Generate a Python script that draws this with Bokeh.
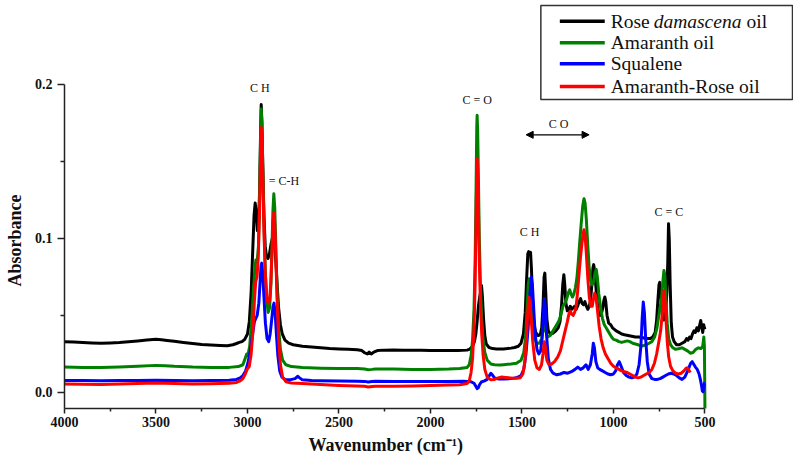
from bokeh.plotting import figure
from bokeh.models import Range1d, FixedTicker, Label, Arrow, NormalHead, NumeralTickFormatter, Title
from bokeh.embed import file_html
from bokeh.resources import INLINE

# ---------------------------------------------------------------- data
# FTIR spectra: (wavenumber cm-1, absorbance)
rose_points = [
    (4000, 0.0330), (3950, 0.0328), (3900, 0.0325), (3850, 0.0322), (3800, 0.0320), (3750, 0.0322),
    (3700, 0.0325), (3650, 0.0330), (3600, 0.0335), (3550, 0.0340), (3500, 0.0345), (3470, 0.0342),
    (3440, 0.0338), (3400, 0.0332), (3350, 0.0325), (3300, 0.0318), (3250, 0.0312), (3200, 0.0308),
    (3150, 0.0305), (3110, 0.0303), (3080, 0.0310), (3060, 0.0318), (3045, 0.0325), (3030, 0.0330),
    (3015, 0.0345), (3000, 0.0380), (2990, 0.0460), (2980, 0.0650), (2972, 0.0900), (2964, 0.1150),
    (2958, 0.1230), (2952, 0.1170), (2946, 0.1050), (2940, 0.1080), (2934, 0.1300), (2929, 0.1650),
    (2925, 0.1870), (2921, 0.1750), (2916, 0.1450), (2910, 0.1150), (2903, 0.0950), (2896, 0.0880),
    (2888, 0.0870), (2880, 0.0900), (2872, 0.0960), (2864, 0.1000), (2858, 0.0990), (2852, 0.0960),
    (2845, 0.0850), (2838, 0.0700), (2830, 0.0550), (2820, 0.0440), (2810, 0.0380), (2795, 0.0340),
    (2775, 0.0320), (2750, 0.0310), (2700, 0.0300), (2650, 0.0295), (2600, 0.0290), (2550, 0.0285),
    (2500, 0.0282), (2450, 0.0280), (2400, 0.0278), (2375, 0.0272), (2360, 0.0258), (2345, 0.0250),
    (2335, 0.0262), (2322, 0.0250), (2310, 0.0262), (2290, 0.0272), (2250, 0.0275), (2200, 0.0276),
    (2150, 0.0275), (2100, 0.0274), (2050, 0.0274), (2000, 0.0273), (1950, 0.0272), (1900, 0.0272),
    (1850, 0.0272), (1800, 0.0275), (1785, 0.0282), (1770, 0.0300), (1760, 0.0330), (1752, 0.0380),
    (1745, 0.0460), (1738, 0.0560), (1731, 0.0620), (1726, 0.0650), (1721, 0.0695), (1716, 0.0620),
    (1710, 0.0480), (1703, 0.0370), (1695, 0.0315), (1680, 0.0292), (1660, 0.0285), (1640, 0.0283),
    (1620, 0.0282), (1600, 0.0283), (1580, 0.0285), (1560, 0.0288), (1540, 0.0292), (1520, 0.0300),
    (1505, 0.0320), (1492, 0.0380), (1482, 0.0520), (1474, 0.0750), (1468, 0.0900), (1463, 0.0915),
    (1458, 0.0895), (1453, 0.0910), (1448, 0.0800), (1442, 0.0600), (1435, 0.0450), (1425, 0.0390),
    (1412, 0.0370), (1400, 0.0375), (1392, 0.0420), (1385, 0.0560), (1379, 0.0750), (1375, 0.0775),
    (1370, 0.0650), (1364, 0.0480), (1356, 0.0400), (1345, 0.0380), (1330, 0.0385), (1315, 0.0400),
    (1302, 0.0420), (1292, 0.0460), (1284, 0.0560), (1277, 0.0700), (1271, 0.0765), (1266, 0.0700),
    (1260, 0.0580), (1252, 0.0530), (1244, 0.0540), (1236, 0.0560), (1228, 0.0540), (1220, 0.0550),
    (1212, 0.0560), (1204, 0.0540), (1196, 0.0560), (1188, 0.0590), (1180, 0.0610), (1172, 0.0580),
    (1164, 0.0570), (1156, 0.0590), (1148, 0.0560), (1140, 0.0540), (1132, 0.0560), (1125, 0.0600),
    (1118, 0.0700), (1112, 0.0810), (1108, 0.0830), (1104, 0.0800), (1098, 0.0720), (1090, 0.0600),
    (1082, 0.0520), (1074, 0.0500), (1066, 0.0510), (1058, 0.0550), (1052, 0.0600), (1047, 0.0620),
    (1042, 0.0590), (1035, 0.0500), (1026, 0.0450), (1015, 0.0440), (1005, 0.0420), (995, 0.0410),
    (985, 0.0400), (970, 0.0390), (955, 0.0380), (940, 0.0375), (920, 0.0370), (900, 0.0365),
    (880, 0.0360), (860, 0.0360), (840, 0.0355), (820, 0.0350), (800, 0.0350), (785, 0.0360),
    (772, 0.0390), (764, 0.0470), (757, 0.0600), (751, 0.0700), (747, 0.0715), (743, 0.0680),
    (738, 0.0580), (732, 0.0500), (726, 0.0470), (720, 0.0480), (714, 0.0530), (708, 0.0650),
    (703, 0.0850), (699, 0.1095), (695, 0.1000), (690, 0.0700), (684, 0.0450), (677, 0.0360),
    (668, 0.0330), (655, 0.0310), (640, 0.0310), (625, 0.0320), (610, 0.0330), (600, 0.0350),
    (592, 0.0340), (584, 0.0360), (576, 0.0350), (568, 0.0380), (560, 0.0400), (552, 0.0390),
    (544, 0.0420), (536, 0.0400), (528, 0.0440), (523, 0.0467), (518, 0.0430), (512, 0.0390),
    (507, 0.0440), (503, 0.0420), (500, 0.0410),
]

amaranth_points = [
    (4000, 0.0165), (3900, 0.0163), (3800, 0.0162), (3700, 0.0165), (3600, 0.0170), (3500, 0.0176),
    (3450, 0.0174), (3400, 0.0170), (3300, 0.0165), (3200, 0.0163), (3100, 0.0163), (3050, 0.0168),
    (3025, 0.0180), (3010, 0.0230), (3004, 0.0250), (2998, 0.0240), (2988, 0.0300), (2978, 0.0450),
    (2968, 0.0650), (2960, 0.0800), (2954, 0.0860), (2947, 0.0850), (2940, 0.0950), (2934, 0.1250),
    (2929, 0.1600), (2925, 0.1840), (2921, 0.1750), (2916, 0.1450), (2910, 0.1100), (2903, 0.0800),
    (2895, 0.0600), (2887, 0.0520), (2879, 0.0550), (2872, 0.0700), (2866, 0.0950), (2861, 0.1180),
    (2856, 0.1290), (2851, 0.1200), (2845, 0.0950), (2838, 0.0650), (2830, 0.0420), (2820, 0.0280),
    (2808, 0.0210), (2790, 0.0180), (2760, 0.0168), (2700, 0.0162), (2600, 0.0158), (2500, 0.0156),
    (2400, 0.0155), (2360, 0.0152), (2340, 0.0148), (2320, 0.0150), (2300, 0.0153), (2200, 0.0152),
    (2100, 0.0150), (2000, 0.0150), (1900, 0.0152), (1840, 0.0155), (1800, 0.0162), (1788, 0.0180),
    (1778, 0.0240), (1770, 0.0340), (1762, 0.0540), (1756, 0.0850), (1751, 0.1300), (1747, 0.1720),
    (1745, 0.1800), (1742, 0.1700), (1738, 0.1400), (1733, 0.1000), (1727, 0.0700), (1720, 0.0480),
    (1712, 0.0340), (1703, 0.0260), (1690, 0.0210), (1670, 0.0185), (1650, 0.0180), (1620, 0.0178),
    (1600, 0.0180), (1560, 0.0185), (1530, 0.0190), (1505, 0.0210), (1490, 0.0260), (1480, 0.0360),
    (1472, 0.0550), (1466, 0.0700), (1461, 0.0738), (1456, 0.0680), (1450, 0.0580), (1443, 0.0450),
    (1433, 0.0360), (1420, 0.0320), (1405, 0.0320), (1392, 0.0350), (1383, 0.0420), (1377, 0.0460),
    (1370, 0.0400), (1360, 0.0360), (1345, 0.0370), (1330, 0.0400), (1315, 0.0430), (1300, 0.0460),
    (1288, 0.0500), (1276, 0.0560), (1265, 0.0580), (1255, 0.0610), (1246, 0.0650), (1239, 0.0667),
    (1232, 0.0640), (1224, 0.0620), (1216, 0.0640), (1208, 0.0680), (1200, 0.0740), (1192, 0.0850),
    (1184, 0.0980), (1176, 0.1100), (1168, 0.1210), (1161, 0.1258), (1155, 0.1230), (1148, 0.1120),
    (1140, 0.0950), (1132, 0.0800), (1124, 0.0720), (1116, 0.0700), (1108, 0.0720), (1100, 0.0780),
    (1094, 0.0799), (1088, 0.0750), (1080, 0.0640), (1070, 0.0550), (1060, 0.0480), (1050, 0.0440),
    (1040, 0.0420), (1030, 0.0400), (1020, 0.0380), (1010, 0.0360), (1000, 0.0345), (985, 0.0340),
    (970, 0.0330), (955, 0.0325), (940, 0.0330), (925, 0.0335), (910, 0.0330), (895, 0.0320),
    (880, 0.0315), (865, 0.0310), (850, 0.0300), (835, 0.0305), (820, 0.0310), (805, 0.0320),
    (790, 0.0330), (775, 0.0360), (762, 0.0420), (752, 0.0500), (744, 0.0560), (737, 0.0620),
    (730, 0.0720), (724, 0.0792), (719, 0.0760), (713, 0.0600), (706, 0.0450), (698, 0.0350),
    (688, 0.0310), (675, 0.0290), (660, 0.0280), (640, 0.0285), (625, 0.0290), (610, 0.0280),
    (595, 0.0270), (580, 0.0255), (565, 0.0260), (550, 0.0280), (535, 0.0290), (522, 0.0285),
    (512, 0.0300), (506, 0.0360), (503, 0.0300), (501, 0.0050), (500, -0.0120),
]

squalene_points = [
    (4000, 0.0078), (3900, 0.0077), (3800, 0.0076), (3700, 0.0077), (3600, 0.0078), (3500, 0.0080),
    (3400, 0.0078), (3300, 0.0076), (3200, 0.0077), (3100, 0.0079), (3060, 0.0085), (3040, 0.0095),
    (3025, 0.0110), (3010, 0.0140), (2998, 0.0190), (2985, 0.0270), (2972, 0.0380), (2962, 0.0460),
    (2955, 0.0480), (2947, 0.0500), (2938, 0.0580), (2931, 0.0720), (2926, 0.0820), (2922, 0.0840),
    (2917, 0.0780), (2910, 0.0620), (2902, 0.0450), (2893, 0.0350), (2884, 0.0330), (2876, 0.0380),
    (2868, 0.0470), (2860, 0.0560), (2855, 0.0580), (2849, 0.0520), (2842, 0.0380), (2834, 0.0240),
    (2824, 0.0140), (2812, 0.0100), (2795, 0.0085), (2770, 0.0082), (2740, 0.0090), (2726, 0.0105),
    (2715, 0.0095), (2700, 0.0082), (2650, 0.0078), (2600, 0.0076), (2500, 0.0074), (2400, 0.0073),
    (2360, 0.0072), (2340, 0.0068), (2320, 0.0071), (2300, 0.0073), (2200, 0.0072), (2100, 0.0071),
    (2000, 0.0071), (1900, 0.0072), (1820, 0.0073), (1780, 0.0070), (1762, 0.0060), (1752, 0.0040),
    (1745, 0.0025), (1739, 0.0030), (1732, 0.0050), (1722, 0.0068), (1705, 0.0075), (1690, 0.0085),
    (1678, 0.0110), (1670, 0.0125), (1662, 0.0115), (1650, 0.0095), (1630, 0.0088), (1600, 0.0088),
    (1560, 0.0090), (1530, 0.0095), (1505, 0.0110), (1490, 0.0150), (1478, 0.0250), (1466, 0.0420),
    (1456, 0.0640), (1449, 0.0749), (1443, 0.0700), (1436, 0.0550), (1428, 0.0380), (1418, 0.0280),
    (1408, 0.0250), (1398, 0.0270), (1390, 0.0350), (1384, 0.0480), (1378, 0.0610), (1373, 0.0560),
    (1366, 0.0380), (1356, 0.0220), (1344, 0.0150), (1330, 0.0125), (1310, 0.0115), (1290, 0.0120),
    (1270, 0.0130), (1250, 0.0125), (1230, 0.0135), (1210, 0.0150), (1195, 0.0165), (1180, 0.0150),
    (1165, 0.0160), (1150, 0.0180), (1138, 0.0150), (1126, 0.0180), (1116, 0.0250), (1110, 0.0320),
    (1104, 0.0290), (1096, 0.0200), (1086, 0.0160), (1075, 0.0150), (1060, 0.0140), (1045, 0.0130),
    (1030, 0.0120), (1015, 0.0115), (1000, 0.0120), (988, 0.0140), (978, 0.0180), (968, 0.0200),
    (958, 0.0170), (945, 0.0130), (930, 0.0110), (915, 0.0100), (900, 0.0095), (885, 0.0100),
    (872, 0.0120), (860, 0.0180), (850, 0.0300), (843, 0.0480), (837, 0.0587), (831, 0.0520),
    (824, 0.0350), (815, 0.0200), (805, 0.0120), (790, 0.0090), (775, 0.0085), (760, 0.0085),
    (745, 0.0090), (730, 0.0100), (715, 0.0110), (700, 0.0120), (685, 0.0125), (670, 0.0120),
    (655, 0.0110), (640, 0.0095), (625, 0.0085), (610, 0.0100), (598, 0.0130), (588, 0.0160),
    (578, 0.0190), (570, 0.0200), (562, 0.0185), (552, 0.0165), (542, 0.0150), (532, 0.0120),
    (524, 0.0080), (518, 0.0040), (514, 0.0010), (510, 0.0005), (506, 0.0030), (503, 0.0060),
    (500, 0.0060),
]

blend_points = [
    (4000, 0.0055), (3900, 0.0053), (3800, 0.0052), (3700, 0.0055), (3600, 0.0058), (3500, 0.0062),
    (3400, 0.0058), (3300, 0.0055), (3200, 0.0057), (3100, 0.0060), (3060, 0.0065), (3040, 0.0075),
    (3025, 0.0090), (3012, 0.0120), (3002, 0.0150), (2990, 0.0170), (2980, 0.0250), (2970, 0.0400),
    (2962, 0.0600), (2955, 0.0720), (2948, 0.0750), (2941, 0.0880), (2934, 0.1180), (2929, 0.1500),
    (2925, 0.1720), (2921, 0.1650), (2916, 0.1400), (2910, 0.1050), (2903, 0.0780), (2895, 0.0620),
    (2887, 0.0580), (2879, 0.0600), (2872, 0.0720), (2866, 0.0920), (2861, 0.1100), (2856, 0.1170),
    (2851, 0.1100), (2845, 0.0880), (2838, 0.0600), (2830, 0.0350), (2820, 0.0180), (2808, 0.0100),
    (2790, 0.0070), (2760, 0.0062), (2700, 0.0058), (2600, 0.0052), (2500, 0.0046), (2400, 0.0042),
    (2360, 0.0040), (2340, 0.0036), (2320, 0.0039), (2300, 0.0041), (2200, 0.0040), (2100, 0.0042),
    (2000, 0.0045), (1900, 0.0048), (1840, 0.0050), (1800, 0.0058), (1788, 0.0075), (1778, 0.0130),
    (1770, 0.0220), (1762, 0.0420), (1756, 0.0700), (1751, 0.1100), (1747, 0.1450), (1745, 0.1520),
    (1742, 0.1450), (1738, 0.1200), (1733, 0.0850), (1727, 0.0580), (1720, 0.0380), (1712, 0.0240),
    (1703, 0.0150), (1690, 0.0100), (1670, 0.0082), (1650, 0.0085), (1630, 0.0095), (1610, 0.0100),
    (1590, 0.0098), (1570, 0.0095), (1550, 0.0093), (1530, 0.0092), (1510, 0.0095), (1495, 0.0120),
    (1484, 0.0200), (1474, 0.0380), (1467, 0.0550), (1462, 0.0620), (1456, 0.0580), (1449, 0.0470),
    (1441, 0.0330), (1430, 0.0210), (1418, 0.0160), (1405, 0.0150), (1393, 0.0180), (1385, 0.0250),
    (1378, 0.0330), (1372, 0.0290), (1364, 0.0210), (1352, 0.0180), (1338, 0.0185), (1322, 0.0200),
    (1305, 0.0230), (1290, 0.0270), (1276, 0.0340), (1264, 0.0400), (1252, 0.0460), (1243, 0.0510),
    (1236, 0.0528), (1229, 0.0510), (1220, 0.0500), (1212, 0.0520), (1204, 0.0560), (1196, 0.0650),
    (1188, 0.0770), (1180, 0.0880), (1172, 0.0970), (1166, 0.1030), (1161, 0.1056), (1155, 0.1020),
    (1148, 0.0900), (1140, 0.0740), (1132, 0.0620), (1124, 0.0560), (1116, 0.0560), (1109, 0.0610),
    (1102, 0.0645), (1095, 0.0620), (1087, 0.0530), (1078, 0.0430), (1068, 0.0350), (1056, 0.0290),
    (1044, 0.0250), (1030, 0.0220), (1015, 0.0190), (1000, 0.0170), (985, 0.0160), (970, 0.0150),
    (955, 0.0140), (940, 0.0135), (925, 0.0130), (910, 0.0120), (895, 0.0110), (880, 0.0100),
    (865, 0.0095), (850, 0.0100), (835, 0.0110), (820, 0.0120), (805, 0.0130), (790, 0.0150),
    (776, 0.0190), (764, 0.0250), (752, 0.0330), (742, 0.0400), (734, 0.0500), (728, 0.0600),
    (724, 0.0662), (719, 0.0620), (713, 0.0480), (706, 0.0330), (698, 0.0230), (688, 0.0170),
    (675, 0.0140), (660, 0.0125), (645, 0.0120), (630, 0.0125), (615, 0.0140), (605, 0.0155),
    (598, 0.0160), (590, 0.0150), (580, 0.0130),
]

series_names = ["Rose damascena oil", "Amaranth oil", "Squalene", "Amaranth-Rose oil"]
series_colors = ["#000000", "#008000", "#0000ff", "#ff0000"]
series_points = [rose_points, amaranth_points, squalene_points, blend_points]

x_ticks = [500, 1000, 1500, 2000, 2500, 3000, 3500, 4000]
x_minor_ticks = [750, 1250, 1750, 2250, 2750, 3250, 3750]
y_ticks = [0.0, 0.1, 0.2]
y_minor_ticks = [0.05, 0.15]

# band assignments: (text, wavenumber, absorbance)
band_labels = [
    ("C H", 2933, 0.1974),
    ("= C-H", 2801, 0.137),
    ("C = O", 1745, 0.190),
    ("C O", 1300, 0.1744),
    ("C H", 1458, 0.1042),
    ("C = C", 697, 0.1175),
]
co_span = (1477, 1133, 0.1673)

# ---------------------------------------------------------------- figure
X_START, X_END = 4000, 16
Y_START, Y_END = -0.0104, 0.2545
FRAME_LEFT, FRAME_W, FRAME_H = 63, 730, 408
SERIF = "Liberation Serif"


def px_x(px):
    return X_START - (px - FRAME_LEFT) * (X_START - X_END) / FRAME_W


def px_y(py):
    return Y_END - py * (Y_END - Y_START) / FRAME_H


p = figure(width=793, height=460,
           x_range=Range1d(X_START, X_END), y_range=Range1d(Y_START, Y_END),
           output_backend="svg", toolbar_location=None,
           min_border_left=FRAME_LEFT, min_border_right=0,
           min_border_top=0, min_border_bottom=460 - FRAME_H)
p.outline_line_color = None
p.xgrid.visible = False
p.ygrid.visible = False
p.background_fill_color = "white"
p.border_fill_color = "white"

for pts, color in zip(series_points, series_colors):
    xs = [a for a, _ in pts]
    ys = [b for _, b in pts]
    p.line(xs, ys, color=color, line_width=3, line_join="round")

# axes
for ax in (p.xaxis, p.yaxis):
    ax.axis_line_width = 1.5
    ax.axis_line_color = "#222222"
    ax.major_tick_line_color = "#222222"
    ax.minor_tick_line_color = "#222222"
    ax.major_tick_line_width = 1.5
    ax.minor_tick_line_width = 1.5
    ax.major_tick_in = 0
    ax.minor_tick_in = 0
    ax.major_label_text_font = SERIF
    ax.major_label_text_font_style = "bold"
    ax.major_label_text_font_size = "14px"
    ax.major_label_text_color = "#111111"

p.xaxis.ticker = FixedTicker(ticks=x_ticks, minor_ticks=x_minor_ticks)
p.xaxis.bounds = (500, 4000)
p.xaxis.major_tick_out = 5
p.xaxis.minor_tick_out = 3
p.xaxis.major_label_standoff = 3

p.yaxis.ticker = FixedTicker(ticks=y_ticks, minor_ticks=y_minor_ticks)
p.yaxis.formatter = NumeralTickFormatter(format="0.0")
p.yaxis.bounds = (Y_START, 0.2)
p.yaxis.major_tick_out = 7
p.yaxis.minor_tick_out = 4
p.yaxis.major_label_standoff = 5

# axis titles, placed along the drawn axis lines rather than the whole frame
p.add_layout(Title(text="Wavenumber (cm\u207b\u00b9)", align="left", offset=244,
                   vertical_align="bottom", standoff=6, text_font=SERIF,
                   text_font_style="bold", text_font_size="18px", text_color="#111111"), "below")
p.add_layout(Title(text="Absorbance", align="left", offset=122,
                   vertical_align="top", standoff=9, text_font=SERIF,
                   text_font_style="bold", text_font_size="18px", text_color="#111111"), "left")

# band annotations
for text, wx, wy in band_labels:
    p.add_layout(Label(x=wx, y=wy, text=text, text_align="center", text_baseline="middle",
                       text_font=SERIF, text_font_size="12px", text_color="#111111"))
p.add_layout(Arrow(x_start=co_span[0], y_start=co_span[2], x_end=co_span[1], y_end=co_span[2],
                   line_width=1.3, line_color="black",
                   start=NormalHead(size=7, fill_color="black", line_color="black"),
                   end=NormalHead(size=7, fill_color="black", line_color="black")))

# legend box
p.quad(left=px_x(540), right=px_x(792), top=px_y(5), bottom=px_y(99),
       fill_color="white", line_color="#333333", line_width=1.5)
row_y = [20.7, 42.3, 63.3, 86.0]
for i, (name, color) in enumerate(zip(series_names, series_colors)):
    yy = px_y(row_y[i])
    p.line([px_x(559), px_x(604)], [yy, yy], color=color, line_width=3.5)
    if i == 0:
        pieces = [("Rose", 610, "normal"), ("damascena", 653, "italic"), ("oil", 746, "normal")]
    else:
        pieces = [(name, 610, "normal")]
    for txt, px0, style in pieces:
        p.add_layout(Label(x=px_x(px0), y=yy, text=txt, text_baseline="middle",
                           text_font=SERIF, text_font_style=style, text_font_size="19.5px",
                           text_color="#111111"))

open("out.html", "w").write(file_html(p, INLINE))
